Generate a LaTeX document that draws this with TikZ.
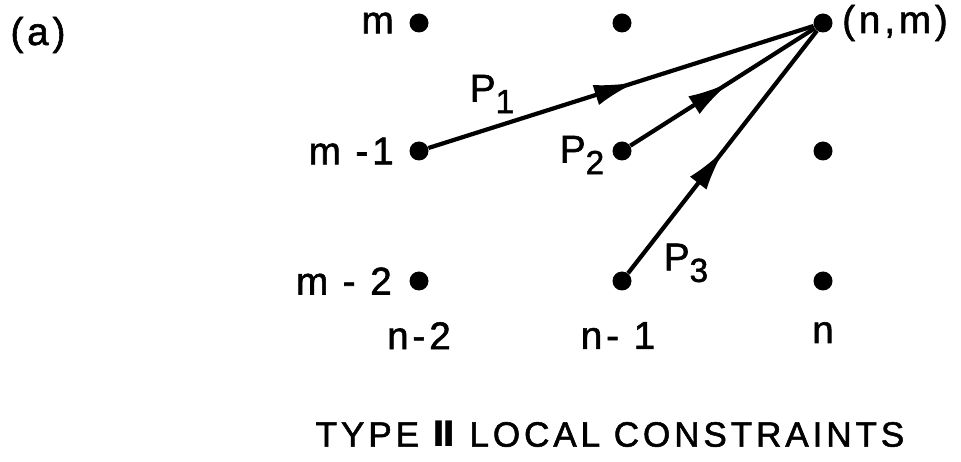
\documentclass[tikz,border=0pt]{standalone}
\usepackage{fontspec}
\setmainfont{Liberation Sans}[LetterSpace=10, FakeBold=1.5]
\newfontfamily\titlefont{Liberation Sans}[LetterSpace=11, FakeBold=1.5]
\newfontfamily\romfont{DejaVu Sans Bold}
\usetikzlibrary{arrows.meta, positioning, decorations.markings}

\newcommand{\pidx}[1]{\raisebox{-0.3em}{\fontsize{19}{19}\selectfont #1}}

\begin{document}
\begin{tikzpicture}[
  x=0.02cm, y=-0.02cm,
  dot/.style={circle, fill=black, inner sep=0pt, minimum size=0.38cm},
  lbl/.style={inner sep=0pt, font=\fontsize{22}{26}\selectfont},
  link/.style={line width=2.4pt, postaction={decorate},
               decoration={markings, mark=at position #1 with
                 {\arrow{Latex[length=0.85cm, width=0.42cm]}}}},
  link/.default=0.54
]
  \useasboundingbox (0,0) rectangle (961,462);

  % grid points
  \node[dot] (n2m)  at (419, 23) {};
  \node[dot] (n1m)  at (622, 23) {};
  \node[dot] (nm)   at (823, 23) {};
  \node[dot] (n2m1) at (419,151) {};
  \node[dot] (n1m1) at (622,151) {};
  \node[dot] (nm1)  at (823,151) {};
  \node[dot] (n2m2) at (419,281) {};
  \node[dot] (n1m2) at (622,281) {};
  \node[dot] (nm2)  at (823,281) {};

  % row and column labels
  \node[lbl, left=0.3cm of n2m]  (rowm)  {m};
  \node[lbl, left=0.3cm of n2m1] (rowm1) {m -1};
  \node[lbl, left=0.34cm of n2m2] (rowm2) {m - 2};
  \node[lbl, below=0.62cm of n2m2] (coln2) {n-2};
  \node[lbl, below=0.62cm of n1m2, xshift=-0.08cm] (coln1) {n- 1};
  \node[lbl, below=0.62cm of nm2]  (coln)  {n};
  \node[lbl, right=0.18cm of nm]   (end)   {(n,m)};
  \node[lbl] (tag) at (38,35) {(a)};

  % paths into (n,m)
  \draw[link] (n2m1) -- (nm);
  \draw[link] (n1m1) -- (nm);
  \draw[link=0.51] (n1m2) -- (nm);

  \node[lbl] (p1) at (492, 94) {P\pidx{1}};
  \node[lbl] (p2) at (582,155) {P\pidx{2}};
  \node[lbl] (p3) at (686,263) {P\pidx{3}};

  \node[font=\titlefont\fontsize{20}{24}\selectfont] (title) at (610,434)
    {TYPE {\romfont Ⅱ} LOCAL CONSTRAINTS};
\end{tikzpicture}
\end{document}
